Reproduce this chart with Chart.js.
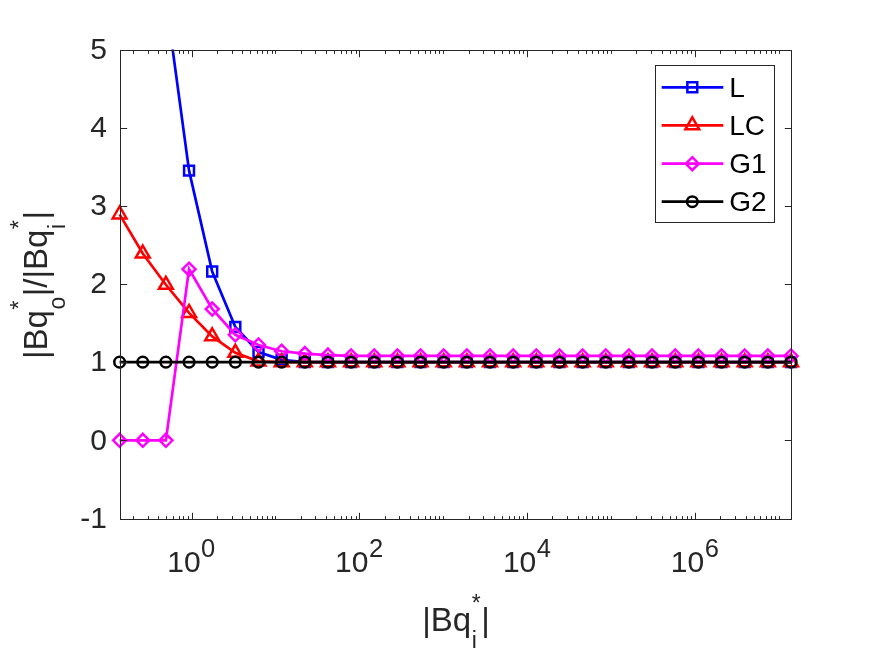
<!DOCTYPE html>
<html>
<head>
<meta charset="utf-8">
<script src="https://cdn.jsdelivr.net/npm/chart.js@4.4.1/dist/chart.umd.min.js"></script>
<style>
  html, body { margin: 0; padding: 0; background: #ffffff; }
  #wrap { width: 875px; height: 656px; }
</style>
</head>
<body>
<div id="wrap"><canvas id="c" width="875" height="656"></canvas></div>
<script>
// ---------------- data ----------------
const xValues = [0.1390, 0.2624, 0.4951, 0.9345, 1.7634, 3.3282, 6.2822, 11.858, 22.383, 42.250,
  79.74, 150.52, 284.11, 536.3, 1011.8, 1910.0, 3605.4, 6805.3, 12845, 24246,
  45765, 86384, 163055, 307765, 580918, 1096495, 2069680, 3906576, 7373719, 13918266];

const seriesL  = [16.2, 9.4, 5.64, 3.45, 2.16, 1.45, 1.13, 1.03, 1.0, 1.0,
  1.0, 1.0, 1.0, 1.0, 1.0, 1.0, 1.0, 1.0, 1.0, 1.0,
  1.0, 1.0, 1.0, 1.0, 1.0, 1.0, 1.0, 1.0, 1.0, 1.0];
const seriesLC = [2.89, 2.39, 1.99, 1.63, 1.33, 1.12, 1.01, 1.0, 1.0, 1.0,
  1.0, 1.0, 1.0, 1.0, 1.0, 1.0, 1.0, 1.0, 1.0, 1.0,
  1.0, 1.0, 1.0, 1.0, 1.0, 1.0, 1.0, 1.0, 1.0, 1.0];
const seriesG1 = [0, 0, 0, 2.19, 1.68, 1.35, 1.22, 1.14, 1.11, 1.09,
  1.08, 1.08, 1.08, 1.08, 1.08, 1.08, 1.08, 1.08, 1.08, 1.08,
  1.08, 1.08, 1.08, 1.08, 1.08, 1.08, 1.08, 1.08, 1.08, 1.08];
const seriesG2 = [1, 1, 1, 1, 1, 1, 1, 1, 1, 1,
  1, 1, 1, 1, 1, 1, 1, 1, 1, 1,
  1, 1, 1, 1, 1, 1, 1, 1, 1, 1];

const seriesNames = ['L', 'LC', 'G1', 'G2'];
const xRange = [0.1390, 13918266];
const yRange = [-1, 5];
const yTickValues = [-1, 0, 1, 2, 3, 4, 5];
const xTickValues = [1, 100, 10000, 1000000];
const xTickExponents = ['0', '2', '4', '6'];

// ---------------- styles ----------------
const AXIS_COLOR = '#262626';
const FONT = '"Liberation Sans", Arial, Helvetica, sans-serif';
const LINE_W = 2.7;
const MARK_W = 2.5;
const styles = [
  { color: '#0000ff', pointStyle: 'rect', radius: 7, order: 3 },
  { color: '#ff0000', pointStyle: 'triangle', radius: 8, order: 2 },
  { color: '#ff00ff', pointStyle: 'rectRot', radius: 6.5, order: 1 },
  { color: '#000000', pointStyle: 'circle', radius: 5.3, order: 0 }
];
const allSeries = [seriesL, seriesLC, seriesG1, seriesG2];

function pairs(ys) { return xValues.map((x, i) => ({ x: x, y: ys[i] })); }

const datasets = allSeries.map((ys, i) => ({
  label: seriesNames[i],
  data: pairs(ys),
  borderColor: styles[i].color,
  backgroundColor: 'rgba(0,0,0,0)',
  borderWidth: LINE_W,
  pointStyle: styles[i].pointStyle,
  pointRadius: styles[i].radius,
  pointBorderWidth: MARK_W,
  pointBorderColor: styles[i].color,
  pointBackgroundColor: 'rgba(0,0,0,0)',
  tension: 0,
  fill: false,
  order: styles[i].order,
  clip: { left: 14, right: 14, top: 0, bottom: 14 }
}));

// ---------------- helpers ----------------
function drawMarker(ctx, style, r, x, y) {
  ctx.beginPath();
  if (style === 'rect') {
    const s = r * Math.SQRT1_2;
    ctx.rect(x - s, y - s, 2 * s, 2 * s);
  } else if (style === 'triangle') {
    ctx.moveTo(x, y - r);
    ctx.lineTo(x + Math.sin(2 * Math.PI / 3) * r, y + r / 2);
    ctx.lineTo(x - Math.sin(2 * Math.PI / 3) * r, y + r / 2);
    ctx.closePath();
  } else if (style === 'rectRot') {
    ctx.moveTo(x, y - r);
    ctx.lineTo(x + r, y);
    ctx.lineTo(x, y + r);
    ctx.lineTo(x - r, y);
    ctx.closePath();
  } else {
    ctx.arc(x, y, r, 0, Math.PI * 2);
  }
  ctx.stroke();
}

// parts: {t} normal text, {sub, sup} stacked scripts
function mathWidth(ctx, parts, size, small) {
  let w = 0;
  for (const p of parts) {
    if (p.t !== undefined) { ctx.font = size + 'px ' + FONT; w += ctx.measureText(p.t).width; }
    else {
      ctx.font = small + 'px ' + FONT;
      const a = p.sub ? ctx.measureText(p.sub).width : 0;
      const b = p.sup ? ctx.measureText(p.sup).width : 0;
      w += Math.max(a, b) + 1;
    }
  }
  return w;
}
function drawMath(ctx, parts, x, y, size, small, subOff, supOff, align) {
  const w = mathWidth(ctx, parts, size, small);
  let cx = align === 'center' ? x - w / 2 : x;
  ctx.textAlign = 'left';
  ctx.textBaseline = 'alphabetic';
  for (const p of parts) {
    if (p.t !== undefined) {
      ctx.font = size + 'px ' + FONT;
      ctx.fillText(p.t, cx, y);
      cx += ctx.measureText(p.t).width;
    } else {
      ctx.font = small + 'px ' + FONT;
      let a = 0, b = 0;
      if (p.sub) { ctx.fillText(p.sub, cx + 0.5, y + subOff); a = ctx.measureText(p.sub).width; }
      if (p.sup) { ctx.fillText(p.sup, cx + 0.5, y + supOff); b = ctx.measureText(p.sup).width; }
      cx += Math.max(a, b) + 1;
    }
  }
}

// ---------------- axes plugin ----------------
const matlabAxes = {
  id: 'matlabAxes',
  afterDatasetsDraw(chart) {
    const ctx = chart.ctx;
    const xs = chart.scales.x, ys = chart.scales.y;
    const L = Math.round(xs.getPixelForValue(xRange[0])) + 0.5;
    const R = Math.round(xs.getPixelForValue(xRange[1])) + 0.5;
    const T = Math.round(ys.getPixelForValue(yRange[1])) + 0.5;
    const B = Math.round(ys.getPixelForValue(yRange[0])) + 0.5;
    ctx.save();
    ctx.strokeStyle = AXIS_COLOR;
    ctx.lineWidth = 1;
    ctx.strokeRect(L, T, R - L, B - T);
    ctx.beginPath();
    const major = 6.7, minor = 3.4;
    // y ticks both sides
    for (const v of yTickValues) {
      const py = Math.round(ys.getPixelForValue(v)) + 0.5;
      ctx.moveTo(L, py); ctx.lineTo(L + major, py);
      ctx.moveTo(R, py); ctx.lineTo(R - major, py);
    }
    // x ticks top & bottom (major + minor)
    const lo = Math.floor(Math.log10(xRange[0])), hi = Math.ceil(Math.log10(xRange[1]));
    for (let e = lo; e <= hi; e++) {
      for (let m = 1; m <= 9; m++) {
        const v = m * Math.pow(10, e);
        if (v < xRange[0] || v > xRange[1]) continue;
        const isMajor = xTickValues.some(t => Math.abs(t - v) / t < 1e-9);
        const len = isMajor ? major : minor;
        const px = Math.round(xs.getPixelForValue(v)) + 0.5;
        ctx.moveTo(px, B); ctx.lineTo(px, B - len);
        ctx.moveTo(px, T); ctx.lineTo(px, T + len);
      }
    }
    ctx.stroke();

    // tick labels
    ctx.fillStyle = AXIS_COLOR;
    ctx.font = '30px ' + FONT;
    ctx.textAlign = 'right';
    ctx.textBaseline = 'middle';
    for (const v of yTickValues) {
      ctx.fillText(String(v), 107, ys.getPixelForValue(v) + 1);
    }
    xTickValues.forEach((v, i) => {
      const px = xs.getPixelForValue(v);
      drawMath(ctx, [{ t: '10' }, { sup: xTickExponents[i] }], px, 571.5, 30, 25.5, 0, -14.5, 'center');
    });

    // axis titles
    drawMath(ctx, [{ t: '|Bq' }, { sub: 'i', sup: '*' }, { t: '|' }], (L + R) / 2, 631, 33, 23, 17, -20, 'center');
    ctx.save();
    ctx.translate(46.7, (T + B) / 2);
    ctx.rotate(-Math.PI / 2);
    drawMath(ctx, [{ t: '|Bq' }, { sub: 'o', sup: '*' }, { t: '|/|Bq' }, { sub: 'i', sup: '*' }, { t: '|' }], 0, 0, 33, 23, 18, -20, 'center');
    ctx.restore();

    // legend
    const bx = 655.5, by = 65.5, bw = 119, bh = 157;
    ctx.fillStyle = '#ffffff';
    ctx.fillRect(bx, by, bw, bh);
    ctx.strokeStyle = AXIS_COLOR;
    ctx.lineWidth = 1;
    ctx.strokeRect(bx, by, bw, bh);
    const rowY = [87.3, 125.3, 163.7, 201.7];
    chart.data.datasets.forEach((ds, i) => {
      const y = rowY[i];
      ctx.strokeStyle = ds.borderColor;
      ctx.lineWidth = LINE_W;
      ctx.beginPath();
      ctx.moveTo(661.7, y); ctx.lineTo(723.3, y);
      ctx.stroke();
      ctx.lineWidth = MARK_W;
      drawMarker(ctx, ds.pointStyle, ds.pointRadius, 692.3, y);
      ctx.fillStyle = '#000000';
      ctx.font = '28px ' + FONT;
      ctx.textAlign = 'left';
      ctx.textBaseline = 'middle';
      ctx.fillText(ds.label, 729.3, y + 1.5);
    });
    ctx.restore();
  }
};

new Chart(document.getElementById('c').getContext('2d'), {
  type: 'line',
  data: { datasets: datasets },
  options: {
    responsive: false,
    animation: false,
    devicePixelRatio: 1,
    layout: { padding: { left: 119.6, right: 84, top: 49.5, bottom: 137.5 } },
    scales: {
      x: { type: 'logarithmic', min: xRange[0], max: xRange[1], display: false },
      y: { type: 'linear', min: yRange[0], max: yRange[1], display: false }
    },
    plugins: { legend: { display: false }, tooltip: { enabled: false } },
    events: []
  },
  plugins: [matlabAxes]
});
</script>
</body>
</html>
